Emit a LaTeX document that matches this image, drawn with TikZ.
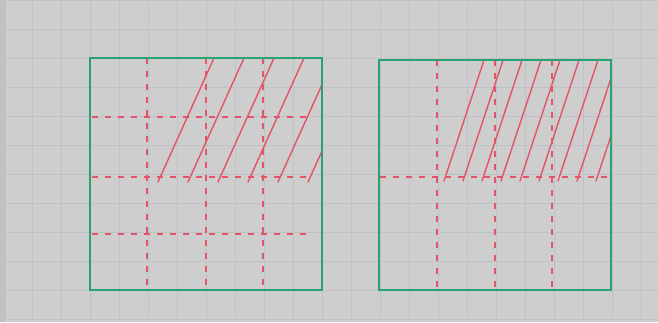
\documentclass[tikz,border=0pt]{standalone}
\definecolor{paper}{RGB}{206,206,207}
\definecolor{gridline}{RGB}{192,193,196}
\definecolor{pen}{RGB}{40,162,112}
\definecolor{ink}{RGB}{228,84,104}
\tikzset{
  box/.style={draw=pen,line width=2.2pt},
  cut/.style={draw=ink,line width=1.7pt,dash pattern=on 6pt off 7pt},
  hatch/.style={draw=ink,line width=1.4pt,line cap=round}
}
\begin{document}
\begin{tikzpicture}[x=1pt,y=-1pt]
			\useasboundingbox (0,0) rectangle (658,322);
			\fill[paper] (0,0) rectangle (658,322);
			\fill[gridline] (0,0) rectangle (6,322);
			\foreach \gx in {3,32,...,658} \draw[gridline,line width=0.6pt] (\gx,0) -- (\gx,322);
			\foreach \gy in {0,29,...,322} \draw[gridline,line width=0.6pt] (0,\gy) -- (658,\gy);
			
			\coordinate (a1) at (90,58);
			\coordinate (a2) at (322,290);
			\coordinate (b1) at (379,60);
			\coordinate (b2) at (611,290);
			
			\begin{scope}
				\clip (147,58) rectangle (322,182);
				\foreach \hx in {158,188,...,360} \draw[hatch] (\hx,182) -- ++(56,-124);
			\end{scope}
			\begin{scope}
				\clip (437,60) rectangle (611,181);
				\foreach \hx in {444,463,...,660} \draw[hatch] (\hx,181) -- ++(40,-121);
			\end{scope}
			
			\foreach \vx in {147,206,263} \draw[cut] (\vx,58) -- (\vx,290);
			\foreach \hy in {117,177,234} \draw[cut] (92,\hy) -- (313,\hy);
			
			\foreach \vx in {437,495,552} \draw[cut] (\vx,60) -- (\vx,290);
			\draw[cut] (380,177) -- (610,177);
			
			\draw[box] (a1) rectangle (a2);
			\draw[box] (b1) rectangle (b2);
		\end{tikzpicture}
\end{document}
